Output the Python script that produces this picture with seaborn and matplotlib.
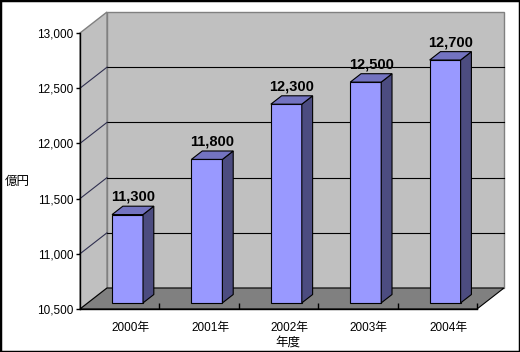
import matplotlib.pyplot as plt
import seaborn as sns
from matplotlib.patches import Polygon, Rectangle
from matplotlib.transforms import ScaledTranslation

# data
years = ["2000年", "2001年", "2002年", "2003年", "2004年"]
sales = [11300, 11800, 12300, 12500, 12700]
y_ticks = [10500, 11000, 11500, 12000, 12500, 13000]

plt.rcParams['font.family'] = ['Liberation Sans', 'Noto Sans CJK JP']

W, H = 520, 352
fig = plt.figure(figsize=(W / 100, H / 100), dpi=100)
ax = fig.add_axes([80 / W, 1 - 309 / H, 397 / W, 276 / H])
ax.patch.set_visible(False)

base, top = y_ticks[0], y_ticks[-1]
x0, x1 = -0.5, len(years) - 0.5

# depth of the fake 3-D box, converted from pixels to data units
ddx = 27 / (397 / (x1 - x0))
ddy = 21 / (276 / (top - base))
front, depth = 0.29, 0.4

sns.barplot(x=years, y=sales, width=0.39, color="#9999FF", saturation=1,
            edgecolor="black", linewidth=0.8, ax=ax, zorder=3)
ax.set_xlim(x0, x1)
ax.set_ylim(base, top)

# walls and floor
ax.add_patch(Rectangle((x0 + ddx, base + ddy), x1 - x0, top - base,
                       fc="#C0C0C0", ec="#808080", lw=1, clip_on=False, zorder=0.5))
ax.add_patch(Polygon([(x0, base), (x0, top), (x0 + ddx, top + ddy), (x0 + ddx, base + ddy)],
                     fc="#C0C0C0", ec="#808080", lw=1, clip_on=False, zorder=0.6))
ax.add_patch(Polygon([(x0, base), (x1, base), (x1 + ddx, base + ddy), (x0 + ddx, base + ddy)],
                     fc="#808080", ec="black", lw=0.8, clip_on=False, zorder=0.7))

# gridlines on back wall and left wall
for t in y_ticks[1:-1]:
    ax.plot([x0 + ddx, x1 + ddx], [t + ddy, t + ddy], color="black", lw=0.8,
            clip_on=False, zorder=1)
    ax.plot([x0, x0 + ddx], [t, t + ddy], color="#303050", lw=0.8,
            clip_on=False, zorder=1)

# turn the seaborn bars into boxes
for p, v in zip(ax.patches[:len(sales)], sales):
    xl = p.get_x() + front * ddx
    w = p.get_width()
    yb = base + front * ddy
    p.set_x(xl)
    p.set_y(yb)
    p.set_height(v - base)
    p.set_clip_on(False)
    yt = yb + v - base
    xr = xl + w
    bx, by = depth * ddx, depth * ddy
    ax.add_patch(Polygon([(xr, yb), (xr, yt), (xr + bx, yt + by), (xr + bx, yb + by)],
                         fc="#4C4C80", ec="black", lw=0.8, clip_on=False, zorder=3))
    ax.add_patch(Polygon([(xl, yt), (xr, yt), (xr + bx, yt + by), (xl + bx, yt + by)],
                         fc="#7373C0", ec="black", lw=0.8, clip_on=False, zorder=3))
    ax.text(xl + w / 2 + bx / 2, yt + by + 5.5 / (276 / (top - base)), f"{v:,}",
            ha="center", va="baseline", fontsize=10.5, fontweight="bold", zorder=4)

# axes
for s in ["top", "right"]:
    ax.spines[s].set_visible(False)
for s in ["left", "bottom"]:
    ax.spines[s].set_color("black")
    ax.spines[s].set_linewidth(1)
ax.set_yticks(y_ticks)
ax.set_yticklabels([f"{t:,}" for t in y_ticks])
ax.tick_params(axis="y", direction="out", length=3, width=1, pad=2, labelsize=8.5)
ax.set_xticks([i + 0.5 for i in range(len(years))], minor=True)
ax.tick_params(axis="x", which="major", length=0, pad=9, labelsize=8.5)
ax.tick_params(axis="x", which="minor", direction="in", length=4, width=1)
ax.set_xlabel("")
ax.set_ylabel("")
shift = ScaledTranslation(11 / 100, 0, fig.dpi_scale_trans)
for lab in ax.get_xticklabels():
    lab.set_transform(lab.get_transform() + shift)

fig.text(5 / W, 1 - 182 / H, "億円", ha="left", va="center", fontsize=9)
fig.text(288 / W, 1 - 343 / H, "年度", ha="center", va="center", fontsize=9)

fig.patches.append(Rectangle((0, 0), 1, 1, transform=fig.transFigure, fill=False,
                             ec="black", lw=2.5, zorder=10))

fig.savefig("out.png", dpi=100)
